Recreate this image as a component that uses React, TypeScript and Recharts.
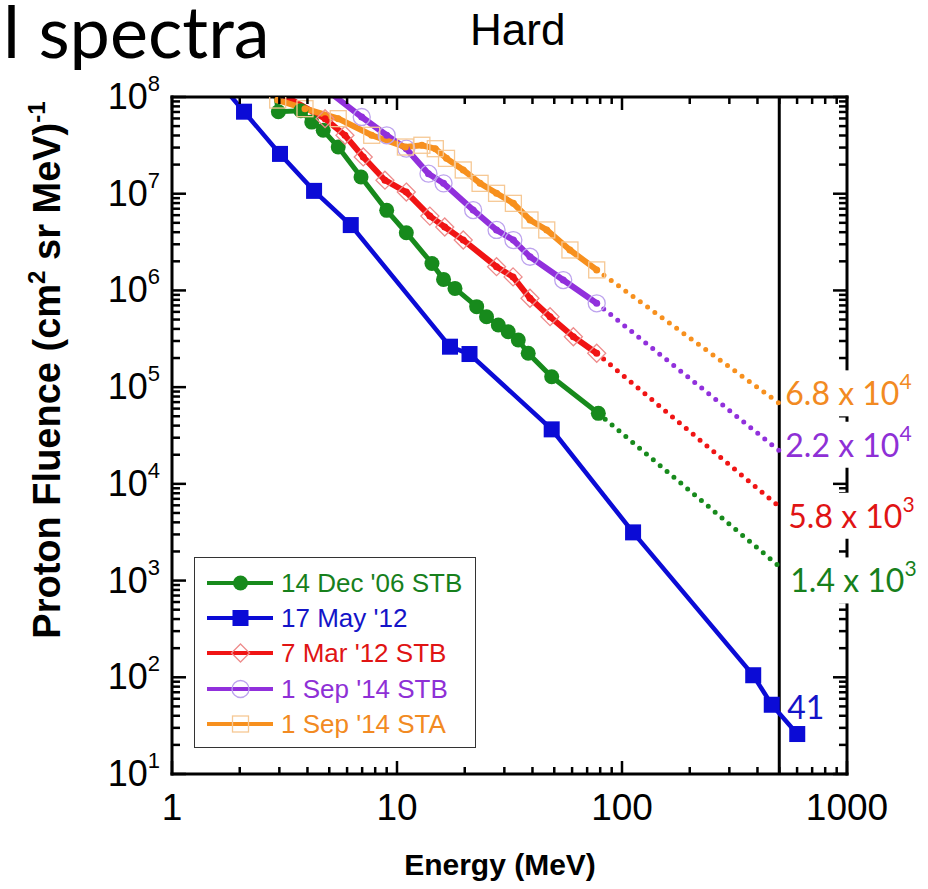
import React from "react";
import {
  LineChart,
  Line,
  XAxis,
  YAxis,
  ReferenceLine,
  ReferenceDot,
  Legend,
} from "recharts";

const SANS = "'Liberation Sans', Arial, Helvetica, sans-serif";
const SLIDE = "Lato, 'Open Sans', sans-serif";

// proton fluence spectra, energy in MeV, fluence in (cm2 sr MeV)^-1
const dec06E = [2.85, 2.97, 3.74, 4.18, 4.7, 5.48, 6.92, 9.0, 11.0, 14.3, 16.1, 18.1, 22.6, 25.0, 28.2, 31.2, 34.6, 38.3, 48.7, 78.5];
const dec06F = [1.3e8, 7.05e7, 7.2e7, 5.5e7, 4.53e7, 3.04e7, 1.49e7, 6.73e6, 3.95e6, 1.9e6, 1.3e6, 1.05e6, 6.8e5, 5.35e5, 4.39e5, 3.74e5, 3.07e5, 2.24e5, 1.28e5, 5.36e4];

const may12E = [1.5, 2.09, 3.02, 4.28, 6.23, 17.2, 21.0, 48.7, 112, 383, 463, 601];
const may12F = [1.75e8, 7.05e7, 2.58e7, 1.07e7, 4.74e6, 2.62e5, 2.2e5, 3.66e4, 3.15e3, 105, 52, 25.9];

const mar12E = [3.0, 4.79, 5.87, 7.08, 8.84, 11.0, 14.0, 16.3, 19.7, 27.7, 32.8, 39.0, 47.9, 60.8, 77.2];
const mar12F = [1.1e8, 5.97e7, 4.02e7, 2.4e7, 1.38e7, 1.04e7, 5.87e6, 4.53e6, 3.32e6, 1.76e6, 1.38e6, 8.3e5, 5.35e5, 3.32e5, 2.24e5];

const sep14bE = [5.2, 6.97, 9.0, 11.0, 13.8, 16.1, 21.8, 27.7, 32.9, 39.0, 54.8, 77.2];
const sep14bF = [1.05e8, 6.21e7, 4.02e7, 2.92e7, 1.61e7, 1.28e7, 6.78e6, 4.22e6, 3.32e6, 2.23e6, 1.28e6, 7.36e5];

const sep14aE = [2.95, 3.9, 5.48, 7.72, 10.9, 12.9, 14.8, 16.6, 19.7, 23.4, 27.7, 32.9, 39.0, 46.3, 58.7, 77.2];
const sep14aF = [9.3e7, 7.57e7, 5.97e7, 4.02e7, 3.04e7, 3.17e7, 2.92e7, 2.32e7, 1.76e7, 1.28e7, 1.01e7, 7.95e6, 5.35e6, 4.22e6, 2.62e6, 1.63e6];

const eventNames = ["14 Dec '06 STB", "17 May '12", "7 Mar '12 STB", "1 Sep '14 STB", "1 Sep '14 STA"];

// fluence at the 500 MeV cut
const cutoffE = 500;
const cutoffF = [1.4e3, 41, 5.8e3, 2.2e4, 6.8e4];

const xTicks: number[] = [];
for (let d = 0; d < 3; d++) for (let m = 1; m < 10; m++) xTicks.push(m * 10 ** d);
xTicks.push(1000);

const yTicks: number[] = [];
for (let d = 1; d < 8; d++) for (let m = 1; m < 10; m++) yTicks.push(m * 10 ** d);
yTicks.push(1e8);

const pts = (e: number[], f: number[]) => e.map((x, i) => ({ e: x, f: f[i] }));

const events = [
  { name: eventNames[0], data: pts(dec06E, dec06F), cut: cutoffF[0] },
  { name: eventNames[1], data: pts(may12E, may12F), cut: cutoffF[1] },
  { name: eventNames[2], data: pts(mar12E, mar12F), cut: cutoffF[2] },
  { name: eventNames[3], data: pts(sep14bE, sep14bF), cut: cutoffF[3] },
  { name: eventNames[4], data: pts(sep14aE, sep14aF), cut: cutoffF[4] },
];

const looks = [
  { line: "#178a1c", text: "#17801c", marker: "disc", open: "", extend: true, width: 5, dx: 11, dy: 26, back: true },
  { line: "#0b0bd6", text: "#1414c8", marker: "block", open: "", extend: false, width: 4.5, dx: 8, dy: 4, back: false },
  { line: "#f01414", text: "#e01414", marker: "diamond", open: "#ee8c8c", extend: true, width: 6, dx: 9, dy: 21, back: true },
  { line: "#9130dc", text: "#8e30d6", marker: "ring", open: "#bda3ee", extend: true, width: 6, dx: 6, dy: 6, back: true },
  { line: "#f7901e", text: "#f28a22", marker: "box", open: "#f6c894", extend: true, width: 6, dx: 6, dy: 2, back: true },
];

const isMajor = (v: number) => Math.abs(Math.log10(v) - Math.round(Math.log10(v))) < 1e-6;

function Marker({ kind, cx, cy, color, open, legend }: any) {
  const core = legend ? null : <circle cx={cx} cy={cy} r={3.5} fill={color} />;
  switch (kind) {
    case "disc":
      return <circle cx={cx} cy={cy} r={7.5} fill={color} />;
    case "block":
      return <rect x={cx - 8} y={cy - 8} width={16} height={16} fill={color} />;
    case "diamond":
      return (
        <g>
          {core}
          <path d={`M${cx},${cy - 9}L${cx + 9},${cy}L${cx},${cy + 9}L${cx - 9},${cy}Z`} fill="none" stroke={open} strokeWidth={1.3} />
        </g>
      );
    case "ring":
      return (
        <g>
          {core}
          <circle cx={cx} cy={cy} r={8.5} fill="none" stroke={open} strokeWidth={1.3} />
        </g>
      );
    default:
      return (
        <g>
          {core}
          <rect x={cx - 8} y={cy - 8} width={16} height={16} fill="none" stroke={open} strokeWidth={1.3} />
        </g>
      );
  }
}

function BottomTick({ x, y, payload }: any) {
  const major = isMajor(payload.value);
  return (
    <g>
      <line x1={x} x2={x} y1={y} y2={y - (major ? 13 : 7)} stroke="#000" strokeWidth={2.5} />
      {major && (
        <text x={x} y={y + 46} textAnchor="middle" fontSize={37} fontFamily={SANS} fill="#000">
          {payload.value}
        </text>
      )}
    </g>
  );
}

function TopTick({ x, y, payload }: any) {
  const major = isMajor(payload.value);
  return <line x1={x} x2={x} y1={y} y2={y + (major ? 13 : 7)} stroke="#000" strokeWidth={2.5} />;
}

function LeftTick({ x, y, payload }: any) {
  const major = isMajor(payload.value);
  return (
    <g>
      <line x1={x} x2={x + (major ? 14 : 8)} y1={y} y2={y} stroke="#000" strokeWidth={2.5} />
      {major && (
        <text x={x - 12} y={y + 12} textAnchor="end" fontSize={36} fontFamily={SANS} fill="#000">
          10
          <tspan dy={-18} fontSize={22}>
            {Math.round(Math.log10(payload.value))}
          </tspan>
        </text>
      )}
    </g>
  );
}

function RightTick({ x, y, payload }: any) {
  const major = isMajor(payload.value);
  return <line x1={x} x2={x - (major ? 14 : 8)} y1={y} y2={y} stroke="#000" strokeWidth={2.5} />;
}

function CutLabel({ cx, cy, value, look }: any) {
  const exp = Math.floor(Math.log10(value));
  const sci = value >= 1000;
  return (
    <g>
      {look.back && <rect x={cx + 4} y={cy + look.dy - 35} width={142} height={46} fill="#fff" />}
      <text x={cx + look.dx} y={cy + look.dy} fill={look.text} fontSize={32} fontFamily={SLIDE}>
        {sci ? `${(value / 10 ** exp).toFixed(1)} x 10` : String(value)}
        {sci && (
          <tspan dy={-16} fontSize={21}>
            {exp}
          </tspan>
        )}
      </text>
    </g>
  );
}

function LegendBox() {
  return (
    <div
      style={{
        boxSizing: "border-box",
        width: 282,
        height: 191,
        border: "1.5px solid #333",
        background: "#fff",
        paddingTop: 7,
      }}
    >
      {events.map((ev, i) => (
        <div key={ev.name} style={{ height: 35.3, display: "flex", alignItems: "center" }}>
          <svg width={86} height={24} style={{ flex: "none" }}>
            <line x1={12} x2={78} y1={12} y2={12} stroke={looks[i].line} strokeWidth={4} />
            <Marker kind={looks[i].marker} cx={45.5} cy={12} color={looks[i].line} open={looks[i].open} legend />
          </svg>
          <span style={{ color: looks[i].text, fontSize: 26, fontFamily: SANS, lineHeight: 1, whiteSpace: "nowrap" }}>
            {ev.name}
          </span>
        </div>
      ))}
    </div>
  );
}

const axisLine = { stroke: "#000", strokeWidth: 3, strokeLinecap: "square" as const };

export default function App() {
  return (
    <div style={{ position: "relative", width: 928, height: 889, background: "#fff" }}>
      <style>{`body{margin:0;background:#fff}`}</style>
      <LineChart width={928} height={889} margin={{ top: 96, right: 80, bottom: 0, left: 0 }}>
        <XAxis
          xAxisId="b"
          type="number"
          dataKey="e"
          scale="log"
          domain={[1, 1000]}
          allowDataOverflow
          ticks={xTicks}
          interval={0}
          height={115}
          tickSize={0}
          tickMargin={0}
          tickLine={false}
          axisLine={axisLine}
          tick={(p: any) => <BottomTick {...p} />}
          label={{
            content: () => (
              <text x={500} y={875} textAnchor="middle" fontSize={30} fontWeight="bold" fontFamily={SANS} fill="#000">
                Energy (MeV)
              </text>
            ),
          }}
        />
        <XAxis
          xAxisId="t"
          orientation="top"
          type="number"
          dataKey="e"
          scale="log"
          domain={[1, 1000]}
          allowDataOverflow
          ticks={xTicks}
          interval={0}
          height={1}
          tickSize={0}
          tickMargin={0}
          tickLine={false}
          axisLine={axisLine}
          tick={(p: any) => <TopTick {...p} />}
        />
        <YAxis
          yAxisId="l"
          type="number"
          scale="log"
          domain={[10, 1e8]}
          allowDataOverflow
          ticks={yTicks}
          interval={0}
          width={172}
          tickSize={0}
          tickMargin={0}
          tickLine={false}
          axisLine={axisLine}
          tick={(p: any) => <LeftTick {...p} />}
          label={{
            content: () => (
              <text
                transform="translate(60,370) rotate(-90)"
                textAnchor="middle"
                fontSize={38}
                fontWeight="bold"
                fontFamily={SANS}
                fill="#000"
              >
                Proton Fluence (cm
                <tspan dy={-15} fontSize={24}>2</tspan>
                <tspan dy={15}> sr MeV)</tspan>
                <tspan dy={-15} fontSize={24}>-1</tspan>
              </text>
            ),
          }}
        />
        <YAxis
          yAxisId="r"
          orientation="right"
          type="number"
          scale="log"
          domain={[10, 1e8]}
          allowDataOverflow
          ticks={yTicks}
          interval={0}
          width={1}
          tickSize={0}
          tickMargin={0}
          tickLine={false}
          axisLine={axisLine}
          tick={(p: any) => <RightTick {...p} />}
        />

        <ReferenceLine xAxisId="b" yAxisId="l" x={cutoffE} stroke="#000" strokeWidth={3} />

        {events.map((ev, i) =>
          looks[i].extend ? (
            <Line
              key={`cut-${i}`}
              xAxisId="t"
              yAxisId="r"
              data={[ev.data[ev.data.length - 1], { e: cutoffE, f: ev.cut }]}
              dataKey="f"
              type="linear"
              stroke={looks[i].line}
              strokeWidth={5}
              strokeDasharray="0 9"
              strokeLinecap="round"
              dot={false}
              activeDot={false}
              legendType="none"
              isAnimationActive={false}
            />
          ) : null
        )}

        {events.map((ev, i) => (
          <Line
            key={ev.name}
            name={ev.name}
            xAxisId="b"
            yAxisId="l"
            data={ev.data}
            dataKey="f"
            type="linear"
            stroke={looks[i].line}
            strokeWidth={looks[i].width}
            dot={(p: any) =>
              p.payload.f > 1e8 ? (
                <g key={p.index} />
              ) : (
                <Marker key={p.index} kind={looks[i].marker} cx={p.cx} cy={p.cy} color={looks[i].line} open={looks[i].open} />
              )
            }
            activeDot={false}
            isAnimationActive={false}
          />
        ))}

        {events.map((ev, i) => (
          <ReferenceDot
            key={`lab-${i}`}
            xAxisId="b"
            yAxisId="l"
            x={cutoffE}
            y={ev.cut}
            r={0}
            ifOverflow="visible"
            zIndex={2000}
            shape={(p: any) => <CutLabel cx={p.cx} cy={p.cy} value={ev.cut} look={looks[i]} />}
          />
        ))}

        <Legend
          layout="vertical"
          align="center"
          verticalAlign="middle"
          wrapperStyle={{ left: 194, top: 557, width: 282, height: 191 }}
          content={() => <LegendBox />}
        />
      </LineChart>
      <svg width={928} height={100} style={{ position: "absolute", left: 0, top: 0, pointerEvents: "none" }}>
        <text x={3} y={58} fontFamily={SLIDE} fontSize={72} fill="#000">
          l spectra
        </text>
        <text x={470} y={45} fontFamily={SANS} fontSize={44} fill="#000">
          Hard
        </text>
      </svg>
    </div>
  );
}
